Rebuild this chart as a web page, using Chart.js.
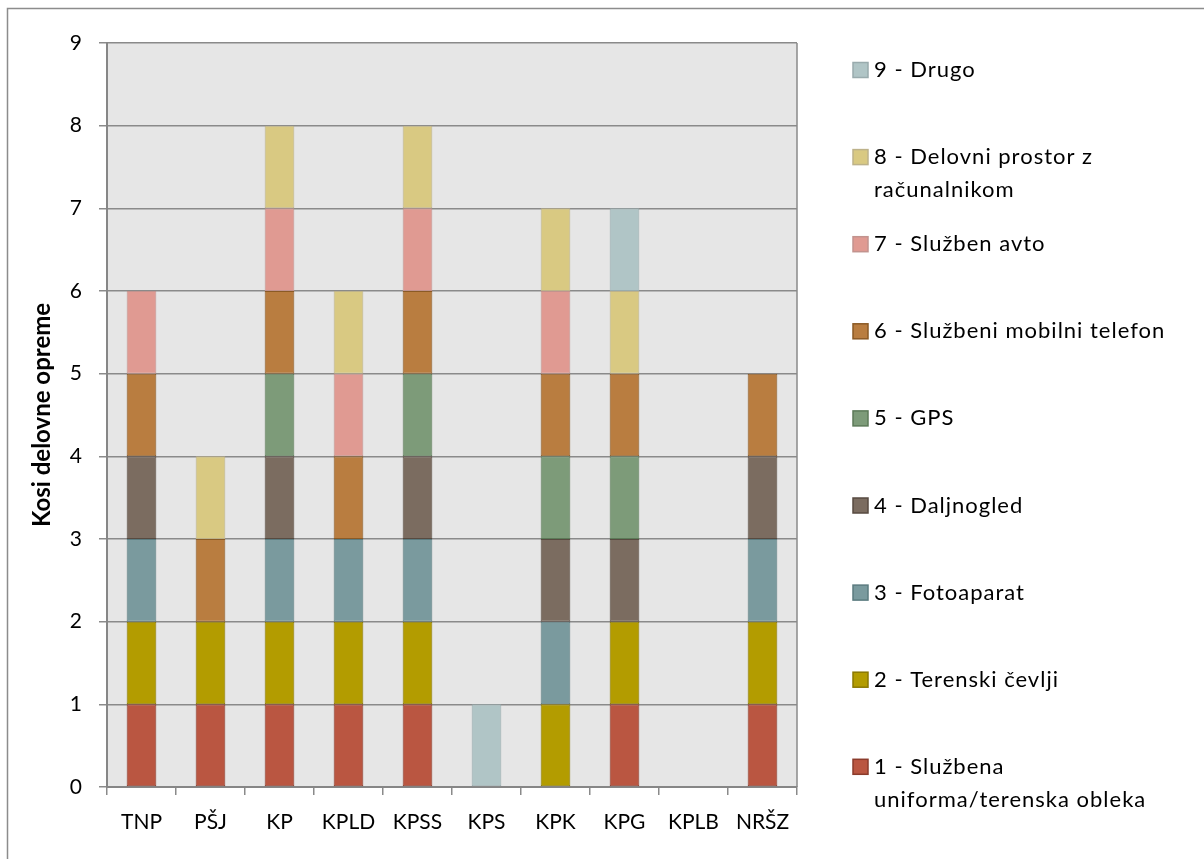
<!DOCTYPE html>
<html>
<head>
<meta charset="utf-8">
<script src="https://cdn.jsdelivr.net/npm/chart.js@4"></script>
<style>
  body { margin: 0; background: #fff; }
  canvas { display: block; }
</style>
</head>
<body>
<canvas id="graf" width="1204" height="859"></canvas>
<script>
// Kategorije (enote)
const enote = ['TNP', 'PŠJ', 'KP', 'KPLD', 'KPSS', 'KPS', 'KPK', 'KPG', 'KPLB', 'NRŠZ'];

// Vrste opreme (\n = prelom v legendi)
const imena = [
    '1 - Službena\nuniforma/terenska obleka',
    '2 - Terenski čevlji',
    '3 - Fotoaparat',
    '4 - Daljnogled',
    '5 - GPS',
    '6 - Službeni mobilni telefon',
    '7 - Služben avto',
    '8 - Delovni prostor z\nračunalnikom',
    '9 - Drugo'
];

// Kosi opreme po enotah
const uniforma  = [1, 1, 1, 1, 1, 0, 0, 1, 0, 1];
const cevlji    = [1, 1, 1, 1, 1, 0, 1, 1, 0, 1];
const fotoaparat = [1, 0, 1, 1, 1, 0, 1, 0, 0, 1];
const daljnogled = [1, 0, 1, 0, 1, 0, 1, 1, 0, 1];
const gps       = [0, 0, 1, 0, 1, 0, 1, 1, 0, 0];
const telefon   = [1, 1, 1, 1, 1, 0, 1, 1, 0, 1];
const avto      = [1, 0, 1, 1, 1, 0, 1, 0, 0, 0];
const prostor   = [0, 1, 1, 1, 1, 0, 1, 1, 0, 0];
const drugo     = [0, 0, 0, 0, 0, 1, 0, 1, 0, 0];

const yTicks = [0, 1, 2, 3, 4, 5, 6, 7, 8, 9];

const barve = ['#BA5641', '#B39C00', '#7A9A9E', '#7B6C60', '#7D9B79', '#B97D40', '#E09A92', '#D9C982', '#B0C5C6'];
const robovi = ['#8B3B2B', '#8A7800', '#5B7B7F', '#574A40', '#5C7A58', '#8B5A25', '#C2938E', '#BDB28A', '#99ABAD'];

const serije = [uniforma, cevlji, fotoaparat, daljnogled, gps, telefon, avto, prostor, drugo];
const GRID = '#8A8A8A';
const FONT = 'Lato';

// ozadje, okvir in legenda
const okvirPlugin = {
    id: 'okvir',
    beforeDraw(chart) {
        const ctx = chart.ctx;
        const a = chart.chartArea;
        ctx.save();
        ctx.fillStyle = '#fff';
        ctx.fillRect(0, 0, chart.width, chart.height);
        ctx.strokeStyle = '#8C8C8C';
        ctx.lineWidth = 1.5;
        ctx.strokeRect(7.5, 8.5, chart.width + 20, chart.height + 20);
        ctx.fillStyle = '#E6E6E6';
        ctx.fillRect(a.left, a.top, a.right - a.left, a.bottom - a.top);
        ctx.restore();
    },
    beforeDatasetsDraw(chart) {
        const ctx = chart.ctx;
        const a = chart.chartArea;
        ctx.save();
        ctx.strokeStyle = GRID;
        ctx.lineWidth = 1.5;
        ctx.beginPath();
        ctx.moveTo(a.right, a.top);
        ctx.lineTo(a.right, a.bottom);
        ctx.stroke();
        ctx.restore();
    },
    afterDraw(chart) {
        const ctx = chart.ctx;
        const ds = chart.data.datasets;
        ctx.save();
        ctx.font = '22px ' + FONT;
        ctx.letterSpacing = '1px';
        ctx.textBaseline = 'middle';
        ctx.textAlign = 'left';
        for (let k = 0; k < ds.length; k++) {
            const d = ds[ds.length - 1 - k];
            const y = 70 + k * 87.1;
            ctx.fillStyle = d.backgroundColor;
            ctx.fillRect(853, y - 7.5, 15, 15);
            ctx.strokeStyle = d.borderColor;
            ctx.lineWidth = 1.5;
            ctx.strokeRect(853, y - 7.5, 15, 15);
            ctx.fillStyle = '#000';
            d.vrstice.forEach((v, i) => ctx.fillText(v, 874, y + i * 33));
        }
        ctx.restore();
    }
};

const datasets = serije.map((s, i) => ({
    label: imena[i].replace('\n', ' '),
    vrstice: imena[i].split('\n'),
    data: s.map(v => v === 0 ? null : v),
    backgroundColor: barve[i],
    borderColor: robovi[i],
    borderWidth: 1,
    borderSkipped: false,
    barPercentage: 0.43,
    categoryPercentage: 1
}));

new Chart(document.getElementById('graf'), {
    type: 'bar',
    data: { labels: enote, datasets: datasets },
    options: {
        responsive: false,
        animation: false,
        layout: { padding: { left: 24, top: 43, right: 407, bottom: 0 } },
        plugins: {
            legend: { display: false },
            tooltip: { enabled: false }
        },
        scales: {
            x: {
                stacked: true,
                grid: { offset: true, drawOnChartArea: false, color: GRID, lineWidth: 1.5, tickLength: 8 },
                border: { color: '#868686', width: 2 },
                ticks: { color: '#000', font: { family: FONT, size: 21 }, padding: 15 },
                afterFit: s => { s.height = 72; }
            },
            y: {
                stacked: true,
                min: 0,
                max: 9,
                afterBuildTicks: s => { s.ticks = yTicks.map(v => ({ value: v })); },
                grid: { color: GRID, lineWidth: 1.5, tickLength: 8 },
                border: { color: '#868686', width: 2 },
                ticks: { color: '#000', font: { family: FONT, size: 21 }, padding: 17 },
                title: {
                    display: true,
                    text: 'Kosi delovne opreme',
                    color: '#000',
                    font: { family: FONT, size: 24, weight: 'bold' },
                    padding: { top: 4, bottom: 4 }
                },
                afterFit: s => { s.width = 83; }
            }
        }
    },
    plugins: [okvirPlugin]
});
</script>
</body>
</html>
